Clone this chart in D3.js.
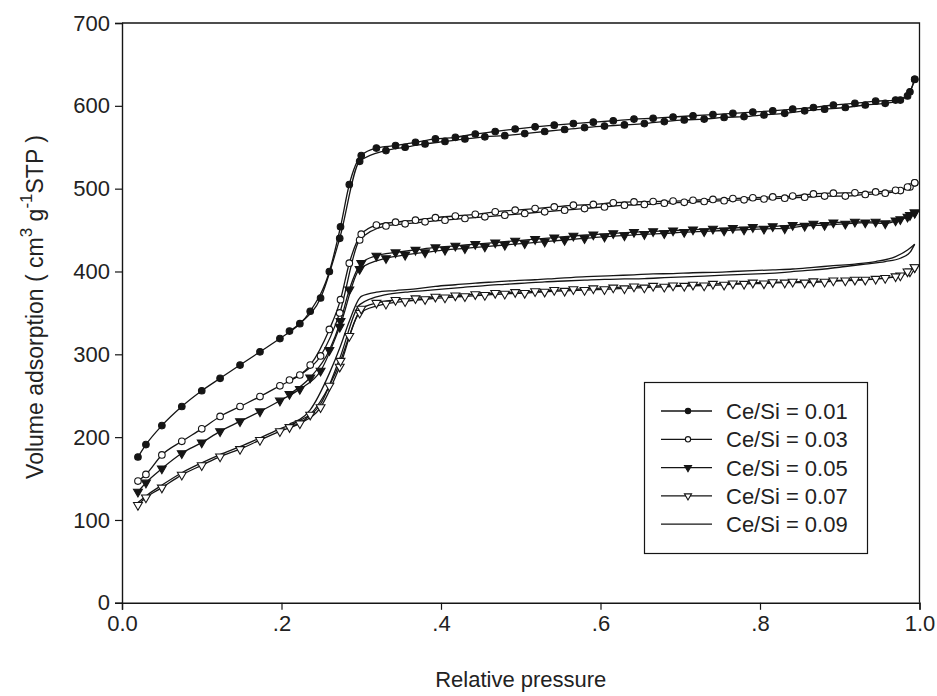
<!DOCTYPE html>
<html>
<head>
<meta charset="utf-8">
<script src="https://cdn.jsdelivr.net/npm/d3@7"></script>
<style>
  html, body { margin: 0; padding: 0; background: #fff; }
  svg { display: block; }
  text { font-family: "Liberation Sans", Arial, Helvetica, sans-serif; fill: #222; }
</style>
</head>
<body>
<svg id="chart" width="937" height="696"></svg>
<script>
// Relative pressure points of the adsorption and desorption branches
const adsP = [0.02, 0.03, 0.05, 0.075, 0.10, 0.123, 0.148, 0.173, 0.198, 0.223, 0.249, 0.273, 0.298,
  0.331, 0.355, 0.38, 0.405, 0.43, 0.455, 0.48, 0.505, 0.53, 0.555, 0.58, 0.605, 0.63, 0.655, 0.68,
  0.705, 0.73, 0.755, 0.78, 0.805, 0.831, 0.856, 0.881, 0.907, 0.932, 0.957, 0.976, 0.988, 0.994];
const desP = [0.994, 0.985, 0.97, 0.945, 0.919, 0.892, 0.867, 0.841, 0.816, 0.791, 0.766, 0.741, 0.716,
  0.691, 0.666, 0.642, 0.616, 0.591, 0.566, 0.542, 0.518, 0.493, 0.468, 0.443, 0.418, 0.393, 0.368,
  0.343, 0.319, 0.30, 0.285, 0.274, 0.26, 0.236, 0.21];

// Adsorbed volume (cm3 g-1 STP), one array per sample and branch
const ads001 = [176, 191, 214, 237, 256, 271, 287, 303, 319, 337, 368, 440, 533, 546, 550, 554, 557, 560,
  562.6, 564, 566.5, 569, 571.4, 573.8, 575.5, 577, 578.6, 581, 583, 584, 586, 587, 589, 591, 594, 596,
  598, 601, 603, 607, 617, 632];
const des001 = [632, 612, 607, 605.6, 603, 601, 598, 596, 594, 592.5, 591, 589.5, 588, 586.5, 585, 584,
  582, 580.3, 578.6, 576.7, 574.6, 572, 569, 566, 562, 560, 556, 552, 549, 540, 505, 454, 400, 352, 328];

const ads003 = [147, 155, 178.5, 195, 210, 225, 237, 249, 262, 275, 298, 350, 438, 455, 457.5, 460, 462,
  464, 466, 468, 470, 472, 474, 476, 478, 480, 481, 482.5, 483.5, 484.5, 485.5, 486.5, 487.5, 488.5,
  489.7, 491, 491, 493, 494.6, 497.7, 502, 507];
const des003 = [507, 502, 498, 496, 495, 494.6, 493.7, 491, 490, 489, 488, 487, 486, 485, 484.5, 484,
  483, 481, 480, 478, 476, 474, 472, 469, 467, 465, 462, 459.5, 456, 445, 410, 366, 330, 287, 269];

const ads005 = [134, 145, 162, 180.5, 193.5, 207, 219, 231, 244, 258, 280, 333, 403, 416, 420, 423, 426,
  428, 430, 432, 434, 436, 438, 440, 442, 443.5, 445, 446, 447.5, 448.5, 449.5, 450.5, 451.5, 452, 455,
  456, 457.5, 459, 458, 463, 468, 471];
const des005 = [471, 466, 461.5, 460, 460, 459, 457.5, 456, 454.5, 453.5, 452.5, 451.5, 450.5, 449.5,
  448.5, 447.5, 446, 444.5, 443, 441, 439, 437, 435, 433, 431, 429, 426, 423, 419, 410, 378, 340, 305, 272, 252];

const ads007 = [118, 127, 139, 154.5, 166, 176.5, 185.5, 196.5, 207, 216.5, 236, 285, 350, 361, 364,
  366.5, 368.5, 370, 371.5, 373, 374, 375.5, 376.5, 377.5, 378.5, 379.5, 380.5, 381.5, 382.5, 383, 384,
  385, 385.5, 386.5, 386.5, 387.5, 389, 390, 392, 395, 400, 405];
const des007 = [405, 400, 394, 391, 390, 389, 388, 387.5, 387, 386.5, 385.5, 385, 384, 383, 382.5, 381.8,
  380.5, 379.5, 378.5, 377.5, 376, 375, 374, 372.5, 371, 369.5, 367.5, 365.5, 362, 355, 322, 292, 262, 227, 212];

const ads009 = [121, 129, 142, 157, 169, 179, 188.5, 199, 210, 220, 240, 295, 360, 372, 375, 377, 379,
  381, 383, 384.5, 386, 387.5, 388.5, 389.5, 390.5, 391, 391.5, 392.5, 393.5, 394.5, 395.5, 396.5, 397.5,
  399, 401, 403, 406, 409, 412, 416, 423, 433];
const des009 = [433, 426, 418, 412, 409, 407, 405, 403, 402, 401, 400, 399, 398.5, 397.5, 397, 396, 395,
  394, 393, 391.5, 390, 389, 387.5, 386, 384, 382, 379, 377, 375, 370, 340, 310, 277, 233, 216];

const seriesNames = ["Ce/Si = 0.01", "Ce/Si = 0.03", "Ce/Si = 0.05", "Ce/Si = 0.07", "Ce/Si = 0.09"];
const markerKinds = ["filledCircle", "openCircle", "filledTriangle", "openTriangle", "none"];
const adsSets = [ads001, ads003, ads005, ads007, ads009];
const desSets = [des001, des003, des005, des007, des009];

const xTicks = [0, 0.2, 0.4, 0.6, 0.8, 1.0];
const xTickLabels = ["0.0", ".2", ".4", ".6", ".8", "1.0"];
const yTicks = [0, 100, 200, 300, 400, 500, 600, 700];

const svg = d3.select("#chart");
const x = d3.scaleLinear().domain([0, 1]).range([122, 919.5]);
const y = d3.scaleLinear().domain([0, 700]).range([602.8, 23]);
const ink = "#151515";

// Plot frame (top and right edges)
svg.append("path")
  .attr("d", `M${x(0)},${y(700)}H${x(1)}V${y(0)}`)
  .attr("fill", "none").attr("stroke", ink).attr("stroke-width", 1.3);

// Axes
const yAxis = svg.append("g").attr("transform", `translate(${x(0)},0)`)
  .call(d3.axisLeft(y).tickValues(yTicks).tickSize(7).tickPadding(5).tickFormat(d3.format("d")));
const xAxis = svg.append("g").attr("transform", `translate(0,${y(0)})`)
  .call(d3.axisBottom(x).tickValues(xTicks).tickSize(7).tickPadding(6)
    .tickFormat((d, i) => xTickLabels[i]));
[yAxis, xAxis].forEach(g => {
  g.select(".domain").attr("stroke", ink).attr("stroke-width", 1.4);
  g.selectAll(".tick line").attr("stroke", ink).attr("stroke-width", 1.2);
  g.selectAll(".tick text").attr("fill", "#222").style("font-size", "22px")
    .style("font-family", "'Liberation Sans', Arial, sans-serif");
});

// Axis titles
svg.append("text")
  .attr("x", (x(0) + x(1)) / 2).attr("y", 687).attr("text-anchor", "middle")
  .style("font-size", "22px").text("Relative pressure");

const yTitle = svg.append("text")
  .attr("transform", "translate(43,307) rotate(-90)")
  .attr("text-anchor", "middle").style("font-size", "23px");
yTitle.append("tspan").text("Volume adsorption ( cm");
yTitle.append("tspan").attr("dy", -11).style("font-size", "17px").text("3");
yTitle.append("tspan").attr("dy", 11).text(" g");
yTitle.append("tspan").attr("dy", -11).style("font-size", "17px").text("-1");
yTitle.append("tspan").attr("dy", 11).text("STP )");

// Isotherm curves
const line = d3.line().x(d => x(d[0])).y(d => y(d[1])).curve(d3.curveMonotoneX);
const plot = svg.append("g");

function branch(ps, vs) {
  return ps.map((p, i) => [p, vs[i]]).sort((a, b) => a[0] - b[0]);
}

const triangleDown = d3.symbol().type(d3.symbolTriangle);

function drawMarker(g, kind, cx, cy, scale) {
  if (kind === "filledCircle" || kind === "openCircle") {
    g.append("circle").attr("cx", cx).attr("cy", cy).attr("r", 3.3 * scale)
      .attr("fill", kind === "filledCircle" ? ink : "#fff")
      .attr("stroke", ink).attr("stroke-width", 1.1);
  } else if (kind === "filledTriangle" || kind === "openTriangle") {
    g.append("path").attr("d", triangleDown.size(34 * scale * scale)())
      .attr("transform", `translate(${cx},${cy}) rotate(180)`)
      .attr("fill", kind === "filledTriangle" ? ink : "#fff")
      .attr("stroke", ink).attr("stroke-width", 1.1);
  }
}

seriesNames.forEach((name, s) => {
  const a = branch(adsP, adsSets[s]);
  const d = branch(desP, desSets[s]);
  [a, d].forEach(pts => {
    plot.append("path").datum(pts).attr("d", line)
      .attr("fill", "none").attr("stroke", ink).attr("stroke-width", 1.3);
  });
});

seriesNames.forEach((name, s) => {
  const kind = markerKinds[s];
  if (kind === "none") return;
  const g = plot.append("g");
  branch(adsP, adsSets[s]).concat(branch(desP, desSets[s]))
    .forEach(p => drawMarker(g, kind, x(p[0]), y(p[1]), 1));
});

// Legend
const legend = svg.append("g");
legend.append("rect").attr("x", 644.5).attr("y", 382.5).attr("width", 223).attr("height", 171)
  .attr("fill", "#fff").attr("stroke", ink).attr("stroke-width", 1.2);
seriesNames.forEach((name, i) => {
  const ry = 411 + i * 28.3;
  legend.append("line").attr("x1", 661).attr("x2", 712).attr("y1", ry).attr("y2", ry)
    .attr("stroke", ink).attr("stroke-width", 1.3);
  drawMarker(legend, markerKinds[i], 688, ry, 0.8);
  legend.append("text").attr("x", 726).attr("y", ry).attr("dy", "0.36em")
    .style("font-size", "22px").text(name);
});
</script>
</body>
</html>
